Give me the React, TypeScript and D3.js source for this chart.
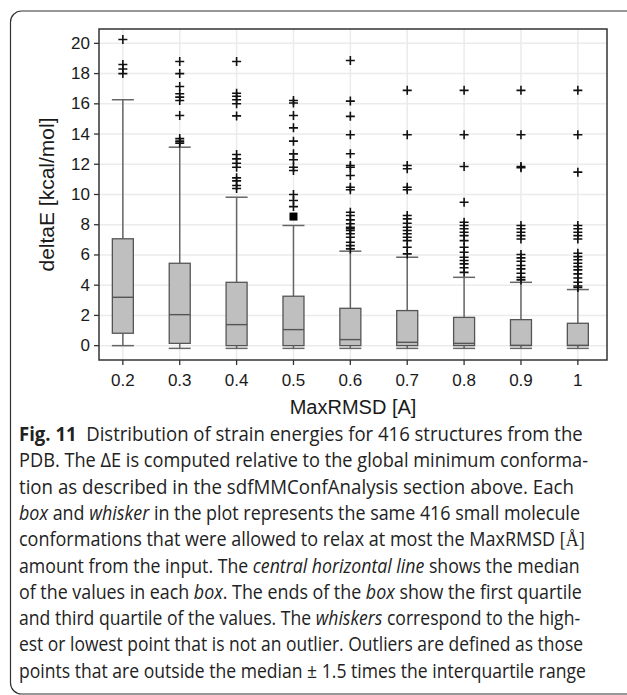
import React, { useLayoutEffect, useRef, useState } from 'react'
import * as d3 from 'd3'

const categories = ['0.2', '0.3', '0.4', '0.5', '0.6', '0.7', '0.8', '0.9', '1']
const q1 = [0.82, 0.15, 0, 0, 0, 0, 0, 0, 0]
const medians = [3.2, 2.05, 1.39, 1.06, 0.4, 0.22, 0.15, 0.02, 0.02]
const q3 = [7.07, 5.45, 4.19, 3.27, 2.47, 2.32, 1.87, 1.72, 1.48]
const whiskerLow = [0, -0.18, -0.18, -0.18, -0.18, -0.18, -0.18, -0.18, -0.18]
const whiskerHigh = [16.27, 13.13, 9.82, 7.95, 6.25, 5.85, 4.52, 4.19, 3.71]
const outliers = [
  [20.26, 18.6, 18.3, 18.0],
  [18.8, 18.0, 17.15, 16.67, 16.44, 16.22, 15.23, 13.7, 13.53, 13.4],
  [18.8, 16.7, 16.5, 16.27, 16.0, 15.2, 12.65, 12.36, 12.07, 11.8, 11.1, 10.9, 10.6, 10.4],
  [16.22, 16.05, 15.23, 14.41, 13.53, 12.69, 12.3, 11.8, 11.59, 10.0, 9.6, 9.2],
  [18.87, 16.18, 15.17, 13.95, 12.7, 11.92, 11.8, 11.26, 10.48, 10.31, 8.83, 8.61, 8.32, 8.06, 7.83, 7.73, 7.62, 7.4, 7.17, 6.84, 6.62, 6.4],
  [16.89, 13.95, 11.92, 11.7, 10.48, 10.31, 8.61, 8.39, 8.1, 7.83, 7.62, 7.4, 7.17, 6.95, 6.51, 6.07],
  [16.89, 13.95, 11.85, 9.49, 8.16, 7.95, 7.73, 7.5, 7.28, 6.95, 6.51, 6.18, 5.85, 5.63, 5.41, 5.15, 4.85],
  [16.89, 13.95, 11.85, 11.77, 7.95, 7.73, 7.5, 7.28, 7.06, 6.03, 5.81, 5.58, 5.3, 5.08, 4.79, 4.52, 4.35],
  [16.89, 13.95, 11.48, 7.95, 7.73, 7.5, 7.28, 7.06, 6.11, 5.89, 5.68, 5.45, 5.23, 5.01, 4.75, 4.48, 4.19, 3.95, 3.85],
]
// the filled square drawn above the 0.5 whisker
const squareMarks = [{ cat: '0.5', value: 8.54 }]
const yTicks = [0, 2, 4, 6, 8, 10, 12, 14, 16, 18, 20]

const captionLines = [
  [{ t: 'Fig. 11', b: true }, { t: '  Distribution of strain energies for 416 structures from the' }],
  [{ t: 'PDB. The \u0394E is computed relative to the global minimum conforma-' }],
  [{ t: 'tion as described in the sdfMMConfAnalysis section above. Each' }],
  [{ t: 'box', i: true }, { t: ' and ' }, { t: 'whisker', i: true }, { t: ' in the plot represents the same 416 small molecule' }],
  [{ t: 'conformations that were allowed to relax at most the MaxRMSD ' }, { t: '[\u00C5]', serif: true }],
  [{ t: 'amount from the input. The ' }, { t: 'central horizontal line', i: true }, { t: ' shows the median' }],
  [{ t: 'of the values in each ' }, { t: 'box', i: true }, { t: '. The ends of the ' }, { t: 'box', i: true }, { t: ' show the first quartile' }],
  [{ t: 'and third quartile of the values. The ' }, { t: 'whiskers', i: true }, { t: ' correspond to the high-' }],
  [{ t: 'est or lowest point that is not an outlier. Outliers are defined as those' }],
  [{ t: 'points that are outside the median \u00B1 1.5 times the interquartile range' }],
]
// right end of each caption line in the figure
const captionEnds = [583, 588, 574, 580, 585, 580, 582, 580, 583, 586]

const W = 627
const H = 695
const plot = { left: 99, right: 607, top: 29, bottom: 360 }

const App = () => {
  const x = d3
    .scalePoint<string>()
    .domain(categories)
    .range([plot.left, plot.right])
    .padding(0.466)
    .align(0.45)

  const y = d3.scaleLinear().domain([-0.95, 20.95]).range([plot.bottom, plot.top])

  const boxW = 21
  const capW = 22
  const cross = 4.5
  const sans = '"Liberation Sans", Arial, sans-serif'
  const capLeft = 19

  // squeeze each caption line to the width it has in the figure
  const lineRefs = useRef<(SVGTextElement | null)[]>([])
  const [scales, setScales] = useState<number[]>(captionLines.map(() => 0.9))
  useLayoutEffect(() => {
    const s = lineRefs.current.map((el, i) => {
      if (!el) return 0.9
      const w = el.getComputedTextLength()
      return w > 0 ? (captionEnds[i] - capLeft) / w : 0.9
    })
    setScales(s)
  }, [])

  return (
    <svg width={W} height={H} style={{ position: 'absolute', left: 0, top: 0 }}>
      <rect x={0} y={0} width={W} height={H} fill="#fff" />
      <rect x={10.5} y={11} width={660} height={683} rx={11} fill="none" stroke="#333" strokeWidth={1.2} />

      {/* grid */}
      <g stroke="#ebebeb" strokeWidth={1.5}>
        {yTicks.map(t => (
          <line key={`gy${t}`} x1={plot.left} x2={plot.right} y1={y(t)} y2={y(t)} />
        ))}
        {categories.map(c => (
          <line key={`gx${c}`} x1={x(c)} x2={x(c)} y1={plot.top} y2={plot.bottom} />
        ))}
      </g>

      {/* boxes */}
      {categories.map((c, i) => {
        const cx = x(c) as number
        return (
          <g key={`b${c}`}>
            <line x1={cx} x2={cx} y1={y(q3[i])} y2={y(whiskerHigh[i])} stroke="#666" strokeWidth={1.5} />
            <line x1={cx} x2={cx} y1={y(q1[i])} y2={y(whiskerLow[i])} stroke="#666" strokeWidth={1.5} />
            <line x1={cx - capW / 2} x2={cx + capW / 2} y1={y(whiskerHigh[i])} y2={y(whiskerHigh[i])} stroke="#666" strokeWidth={1.5} />
            <line x1={cx - capW / 2} x2={cx + capW / 2} y1={y(whiskerLow[i])} y2={y(whiskerLow[i])} stroke="#666" strokeWidth={1.5} />
            <rect
              x={cx - boxW / 2}
              y={y(q3[i])}
              width={boxW}
              height={y(q1[i]) - y(q3[i])}
              fill="#bfbfbf"
              stroke="#555"
              strokeWidth={1.3}
            />
            <line x1={cx - boxW / 2} x2={cx + boxW / 2} y1={y(medians[i])} y2={y(medians[i])} stroke="#555" strokeWidth={1.4} />
            {outliers[i].map((v, j) => (
              <path
                key={`o${j}`}
                d={`M${cx - cross},${y(v)}H${cx + cross}M${cx},${y(v) - cross}V${y(v) + cross}`}
                stroke="#111"
                strokeWidth={1.6}
              />
            ))}
          </g>
        )
      })}
      {squareMarks.map(s => (
        <rect
          key={`sq${s.cat}`}
          x={(x(s.cat) as number) - 4}
          y={y(s.value) - 4}
          width={8}
          height={8}
          fill="#000"
        />
      ))}

      {/* frame */}
      <rect
        x={plot.left}
        y={plot.top}
        width={plot.right - plot.left}
        height={plot.bottom - plot.top}
        fill="none"
        stroke="#333"
        strokeWidth={1.5}
      />

      {/* axes */}
      <g fontFamily={sans} fontSize={17} fill="#1a1a1a">
        {yTicks.map(t => (
          <g key={`ty${t}`}>
            <line x1={plot.left - 5} x2={plot.left} y1={y(t)} y2={y(t)} stroke="#333" strokeWidth={1.3} />
            <text x={plot.left - 9} y={y(t)} textAnchor="end" dominantBaseline="central">
              {t}
            </text>
          </g>
        ))}
        {categories.map(c => (
          <g key={`tx${c}`}>
            <line x1={x(c)} x2={x(c)} y1={plot.bottom} y2={plot.bottom + 5} stroke="#333" strokeWidth={1.3} />
            <text x={x(c)} y={386} textAnchor="middle">
              {c}
            </text>
          </g>
        ))}
      </g>
      <text
        fontFamily={sans}
        fontSize={21}
        fill="#1a1a1a"
        textAnchor="middle"
        transform={`translate(54,${(plot.top + plot.bottom) / 2}) rotate(-90)`}
      >
        deltaE [kcal/mol]
      </text>
      <text fontFamily={sans} fontSize={20} fill="#1a1a1a" textAnchor="middle" x={(plot.left + plot.right) / 2} y={414}>
        MaxRMSD [A]
      </text>

      {/* caption */}
      <g fontFamily='"Open Sans", sans-serif' fontSize={20} fill="#222">
        {captionLines.map((line, li) => (
          <text
            key={`c${li}`}
            ref={el => {
              lineRefs.current[li] = el
            }}
            x={0}
            y={0}
            transform={`translate(${capLeft},${441 + li * 26.3}) scale(${scales[li]},1)`}
            xmlSpace="preserve"
          >
            {line.map((s: any, si) => (
              <tspan
                key={si}
                fontWeight={s.b ? 'bold' : undefined}
                fontStyle={s.i ? 'italic' : undefined}
                fontFamily={s.serif ? '"Liberation Serif", serif' : undefined}
              >
                {s.t}
              </tspan>
            ))}
          </text>
        ))}
      </g>
    </svg>
  )
}

export default App
